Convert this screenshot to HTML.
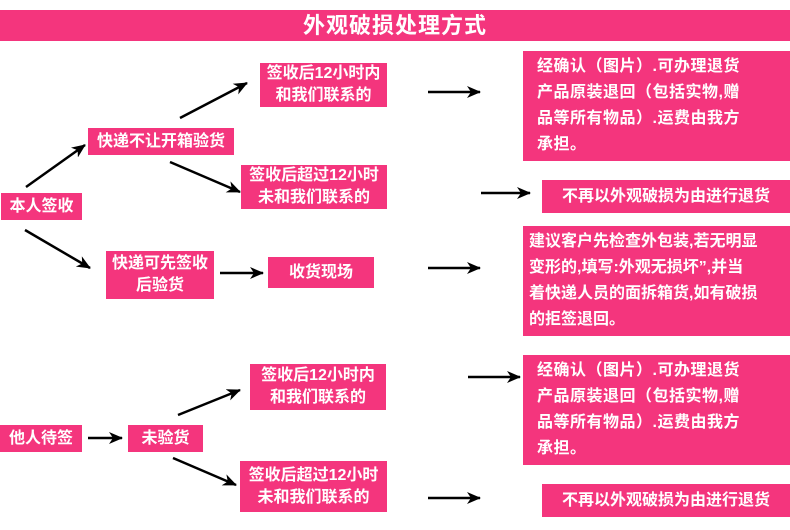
<!DOCTYPE html>
<html><head><meta charset="utf-8"><style>
body{margin:0;width:790px;height:530px;background:#fff;position:relative;overflow:hidden;font-family:"Liberation Sans","Noto Sans CJK SC",sans-serif;}
.b{position:absolute;background:#f4357d;color:#fff;font-weight:bold;font-size:16px;display:flex;align-items:center;justify-content:center;text-align:center;line-height:22px;}
.t{justify-content:flex-start;text-align:left;padding-left:14px;box-sizing:border-box;line-height:26px;font-size:16px;letter-spacing:0.5px;}
svg{position:absolute;left:0;top:0;}
</style></head><body>
<div class="b" style="left:0;top:10px;width:790px;height:31px;font-size:22px;letter-spacing:1px;">外观破损处理方式</div>
<div class="b" style="left:260px;top:63px;width:127px;height:44px;">签收后12小时内<br>和我们联系的</div>
<div class="b" style="left:88px;top:128px;width:146px;height:27px;">快递不让开箱验货</div>
<div class="b" style="left:241px;top:165px;width:146px;height:44px;">签收后超过12小时<br>未和我们联系的</div>
<div class="b" style="left:1px;top:193px;width:81px;height:27px;">本人签收</div>
<div class="b" style="left:106px;top:251px;width:108px;height:48px;">快递可先签收<br>后验货</div>
<div class="b" style="left:268px;top:257px;width:106px;height:31px;">收货现场</div>
<div class="b t" style="left:523px;top:51px;width:267px;height:110px;">经确认（图片）.可办理退货<br>产品原装退回（包括实物,赠<br>品等所有物品）.运费由我方<br>承担。</div>
<div class="b" style="left:542px;top:180px;width:248px;height:33px;">不再以外观破损为由进行退货</div>
<div class="b t" style="left:523px;top:226px;width:267px;height:110px;padding-left:6px;letter-spacing:0;">建议客户先检查外包装,若无明显<br>变形的,填写:外观无损坏”,并当<br>着快递人员的面拆箱货,如有破损<br>的拒签退回。</div>
<div class="b" style="left:250px;top:364px;width:136px;height:46px;">签收后12小时内<br>和我们联系的</div>
<div class="b" style="left:0;top:425px;width:82px;height:27px;">他人待签</div>
<div class="b" style="left:128px;top:425px;width:75px;height:27px;">未验货</div>
<div class="b" style="left:240px;top:461px;width:147px;height:51px;">签收后超过12小时<br>未和我们联系的</div>
<div class="b t" style="left:523px;top:355px;width:267px;height:110px;">经确认（图片）.可办理退货<br>产品原装退回（包括实物,赠<br>品等所有物品）.运费由我方<br>承担。</div>
<div class="b" style="left:542px;top:484px;width:248px;height:33px;">不再以外观破损为由进行退货</div>
<svg width="790" height="530">
<defs><marker id="a" markerWidth="14" markerHeight="12" refX="13" refY="6" orient="auto" markerUnits="userSpaceOnUse" viewBox="0 0 14 12"><path d="M0,0 L14,6 L0,12 L4,6z" fill="#000"/></marker></defs>
<g stroke="#000" stroke-width="2.5" marker-end="url(#a)" fill="none">
<path d="M26,187 L85,145"/>
<path d="M180,118 L247,83"/>
<path d="M170,162 L240,192"/>
<path d="M25,230 L90,268"/>
<path d="M220,273 L263,273"/>
<path d="M428,92 L480,92"/>
<path d="M481,193 L530,193"/>
<path d="M428,268 L480,268"/>
<path d="M178,415 L240,390"/>
<path d="M173,458 L236,485"/>
<path d="M88,438 L122,438"/>
<path d="M468,377 L520,377"/>
<path d="M428,498 L480,498"/>
</g>
</svg>
</body></html>
